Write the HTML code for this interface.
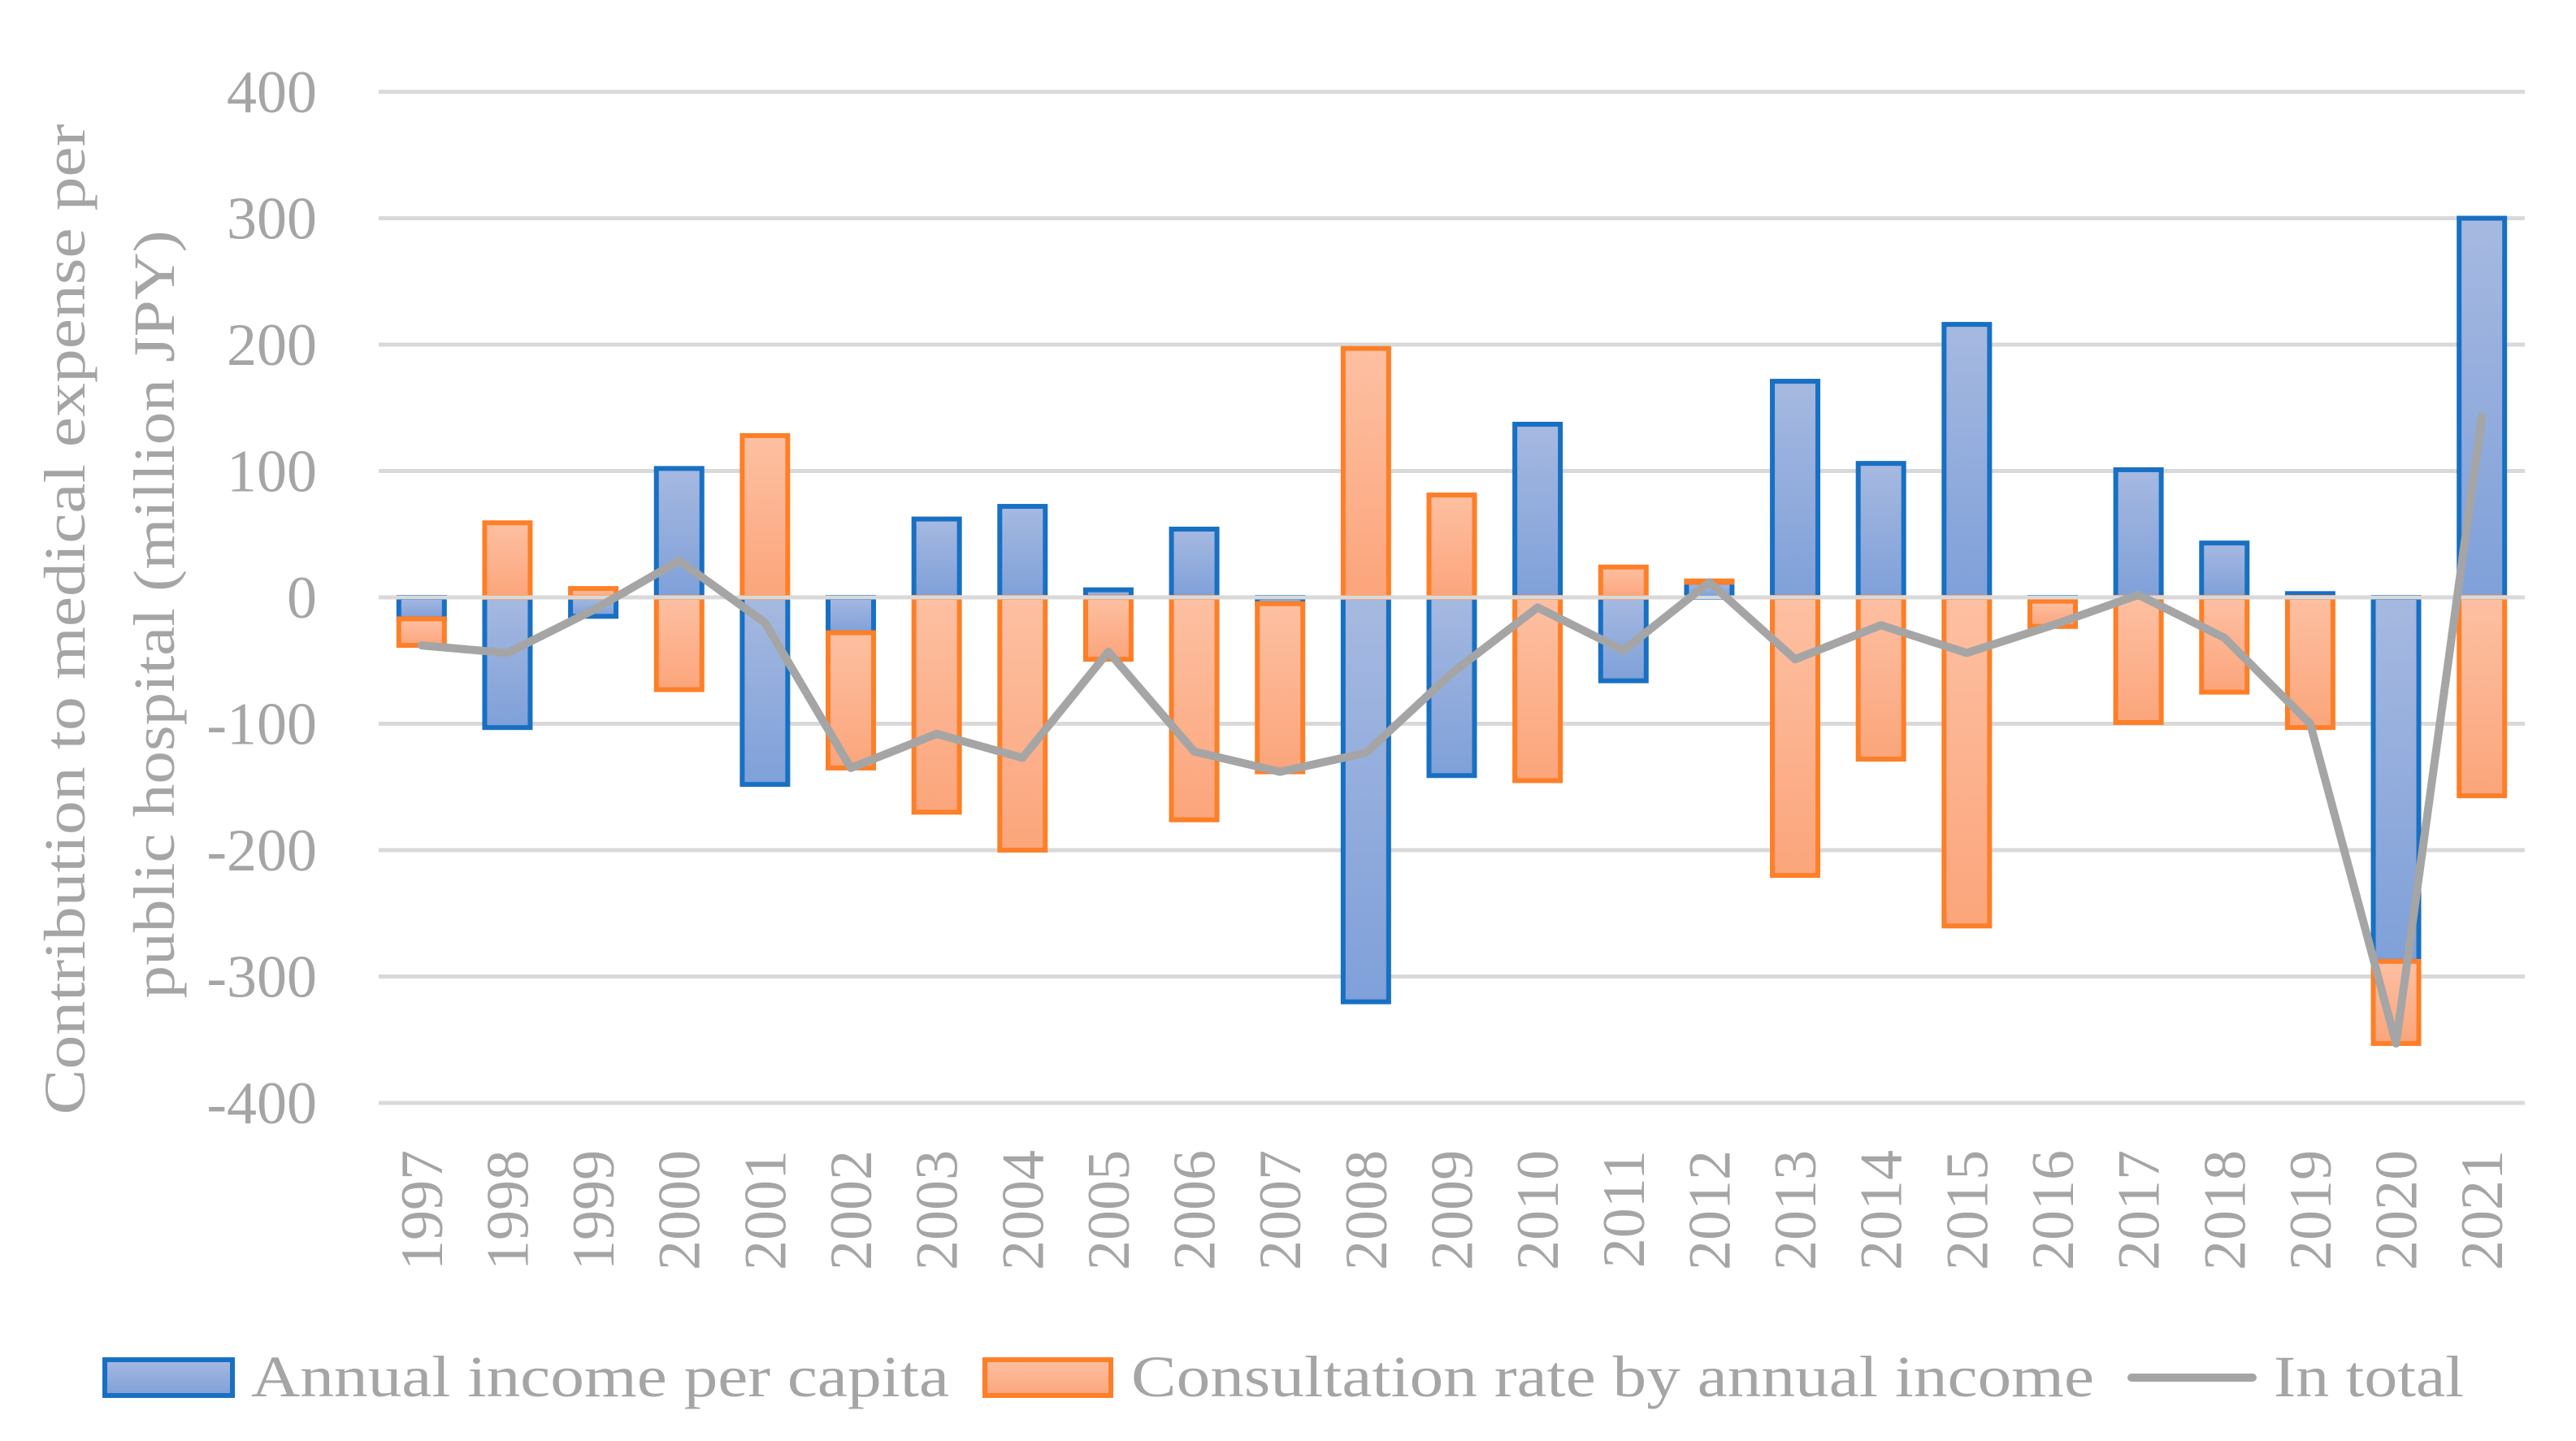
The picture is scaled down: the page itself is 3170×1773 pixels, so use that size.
<!DOCTYPE html>
<html><head><meta charset="utf-8"><style>
html,body{margin:0;padding:0;background:#fff;}
svg{display:block;font-family:"Liberation Serif",serif;}
</style></head><body>
<svg id="chart" width="3170" height="1773" viewBox="0 0 3170 1773" xmlns="http://www.w3.org/2000/svg">
<defs>
<linearGradient id="gb" x1="0" y1="0" x2="0" y2="1"><stop offset="0" stop-color="#a6b9e0"/><stop offset="1" stop-color="#7fa0d9"/></linearGradient>
<linearGradient id="go" x1="0" y1="0" x2="0" y2="1"><stop offset="0" stop-color="#fdc0a2"/><stop offset="1" stop-color="#fba57b"/></linearGradient>
</defs>
<g id="grid"></g>
<g id="yticks"></g>
<g id="bars"></g>
<g id="line"></g>
<g id="xticks"></g>
<g fill="#a5a5a5" font-size="72" text-anchor="middle">
<text transform="translate(104,762) rotate(-90)" textLength="1219" lengthAdjust="spacingAndGlyphs">Contribution to medical expense per</text>
<text transform="translate(214,756) rotate(-90)" textLength="945" lengthAdjust="spacingAndGlyphs">public hospital (million JPY)</text>
</g>
<g font-size="72" fill="#a5a5a5">
<rect x="129" y="1673" width="157" height="44" fill="url(#gb)" stroke="#1870c3" stroke-width="6"/>
<text x="309" y="1718" textLength="859" lengthAdjust="spacingAndGlyphs">Annual income per capita</text>
<rect x="1212" y="1673" width="155" height="44" fill="url(#go)" stroke="#fd7f28" stroke-width="6"/>
<text x="1392" y="1718" textLength="1185" lengthAdjust="spacingAndGlyphs">Consultation rate by annual income</text>
<line x1="2623" y1="1695" x2="2772" y2="1695" stroke="#a5a5a5" stroke-width="10" stroke-linecap="round"/>
<text x="2798" y="1718" textLength="234" lengthAdjust="spacingAndGlyphs">In total</text>
</g>
</svg>
<script>
const years = ["1997","1998","1999","2000","2001","2002","2003","2004","2005","2006","2007","2008","2009","2010","2011","2012","2013","2014","2015","2016","2017","2018","2019","2020","2021"];
const income = [-17,-103,-15,102,-148,-28,62,72,6,54,-5,-320,-141,137,-66,12,171,106,216,-3,101,43,3,-288,300];
const consultation = [-21,59,7,-73,128,-107,-170,-200,-49,-176,-133,197,81,-145,24,1,-220,-128,-260,-20,-99,-75,-103,-65,-157];
const total = [-38,-44,-10,29,-20,-135,-108,-127,-43,-122,-138,-123,-60,-8,-42,12,-49,-22,-44,-22,2,-32,-100,-353,143];
const yTicks = [400,300,200,100,0,-100,-200,-300,-400];

const NS="http://www.w3.org/2000/svg";
const X0=466, X1=3107, Y0=735, PX=155.5;
const step=(X1-X0)/years.length;
const xc=i=>X0+step*(i+0.5);
const y=v=>Y0-v*PX/100;
function mk(tag,attrs,parent){const e=document.createElementNS(NS,tag);for(const k in attrs)e.setAttribute(k,attrs[k]);parent.appendChild(e);return e;}
const grid=document.getElementById('grid'), yt=document.getElementById('yticks');
yTicks.forEach(v=>{
  const l=mk('line',{x1:X0,x2:X1,y1:y(v),y2:y(v),stroke:'#d9d9d9','stroke-width':5},grid);
  
  
  const t=mk('text',{x:390,y:y(v)+25,'text-anchor':'end','font-size':74,fill:'#a5a5a5'},yt);
  t.textContent=v;
  
  
});
const bars=document.getElementById('bars');
const BW=56;
years.forEach((yr,i)=>{
  let pos=0,neg=0;
  [[income[i],'url(#gb)','#1870c3','bar-income-'+yr],[consultation[i],'url(#go)','#fd7f28','bar-consultation-'+yr]].forEach(([v,f,s,n])=>{
    let a,b;
    if(v>=0){a=pos;b=pos+v;pos=b;}else{a=neg;b=neg+v;neg=b;}
    const top=y(Math.max(a,b)), h=Math.abs(y(a)-y(b));
    const r=mk('rect',{x:xc(i)-BW/2,y:top,width:BW,height:h,fill:f,stroke:s,'stroke-width':6},bars);
    
    
  });
});
const z=mk('line',{x1:X0,x2:X1,y1:y(0),y2:y(0),stroke:'#d9d9d9','stroke-width':5},bars);


const pl=mk('polyline',{points:total.map((v,i)=>xc(i)+','+y(v)).join(' '),fill:'none',stroke:'#a5a5a5','stroke-width':10,'stroke-linejoin':'round','stroke-linecap':'round'},document.getElementById('line'));


const xt=document.getElementById('xticks');
years.forEach((yr,i)=>{
  const t=mk('text',{transform:`translate(${xc(i)+25},1415) rotate(-90)`,'text-anchor':'end','font-size':74,fill:'#a5a5a5'},xt);
  t.textContent=yr;
  
  
});
</script>
</body></html>
